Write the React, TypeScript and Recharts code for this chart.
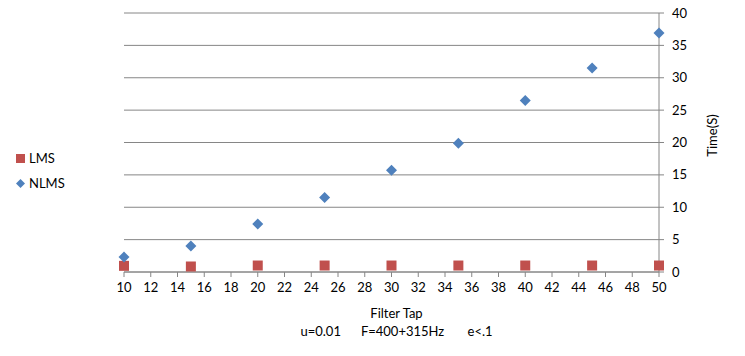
import React from 'react';
import { ScatterChart, Scatter, XAxis, YAxis, CartesianGrid } from 'recharts';

const taps = [10, 15, 20, 25, 30, 35, 40, 45, 50];
const lmsTime = [0.95, 0.85, 1.0, 1.0, 1.0, 1.0, 1.0, 1.0, 1.0];
const nlmsTime = [2.3, 4.0, 7.4, 11.5, 15.7, 19.9, 26.5, 31.5, 36.9];
const xTicks = [10, 12, 14, 16, 18, 20, 22, 24, 26, 28, 30, 32, 34, 36, 38, 40, 42, 44, 46, 48, 50];
const yTicks = [0, 5, 10, 15, 20, 25, 30, 35, 40];

const lmsData = taps.map((x, i) => ({ x, y: lmsTime[i] }));
const nlmsData = taps.map((x, i) => ({ x, y: nlmsTime[i] }));

const FONT = 'Lato, "Open Sans", sans-serif';
const RED = '#C0504D';
const BLUE = '#4F81BD';
const GRID = '#868686';

const Square = (props: any) => {
  const { cx, cy } = props;
  return <rect x={cx - 5} y={cy - 5} width={10} height={10} fill={RED} />;
};

const Diamond = (props: any) => {
  const { cx, cy } = props;
  return (
    <polygon
      points={`${cx},${cy - 5.5} ${cx + 5.5},${cy} ${cx},${cy + 5.5} ${cx - 5.5},${cy}`}
      fill={BLUE}
    />
  );
};

const XLabel = (props: any) => {
  const { viewBox } = props;
  const cx = viewBox.x + viewBox.width / 2 + 5;
  return (
    <g fontFamily={FONT} fontSize={13} fill="#000">
      <text x={cx} y={viewBox.y + 46} textAnchor="middle">Filter Tap</text>
      <text x={cx} y={viewBox.y + 64} textAnchor="middle" style={{ whiteSpace: 'pre' }}>
        {'u=0.01      F=400+315Hz       e<.1'}
      </text>
    </g>
  );
};

const YLabel = (props: any) => {
  const { viewBox } = props;
  const x = viewBox.x + 58;
  const y = viewBox.y + viewBox.height / 2 - 7;
  return (
    <text
      x={x}
      y={y}
      transform={`rotate(-90, ${x}, ${y})`}
      textAnchor="middle"
      fontFamily={FONT}
      fontSize={13}
      fill="#000"
    >
      Time(S)
    </text>
  );
};

export default function App() {
  return (
    <div style={{ position: 'absolute', left: 0, top: 0, width: 745, height: 356, background: '#fff' }}>
      <ScatterChart width={745} height={356} margin={{ top: 13, right: 26, bottom: 54, left: 124 }}>
        <CartesianGrid horizontal vertical={false} stroke={GRID} />
        <XAxis
          type="number"
          dataKey="x"
          domain={[10, 50]}
          ticks={xTicks}
          interval={0}
          height={30}
          stroke={GRID}
          tickSize={5}
          tickMargin={6}
          tick={{ fill: '#000', fontSize: 13, fontFamily: FONT }}
          label={<XLabel />}
        />
        <YAxis
          type="number"
          dataKey="y"
          orientation="right"
          domain={[0, 40]}
          ticks={yTicks}
          interval={0}
          width={60}
          stroke={GRID}
          tickSize={5}
          tickMargin={8}
          tick={{ fill: '#000', fontSize: 13, fontFamily: FONT }}
          label={<YLabel />}
        />
        <Scatter name="LMS" data={lmsData} shape={Square} isAnimationActive={false} />
        <Scatter name="NLMS" data={nlmsData} shape={Diamond} isAnimationActive={false} />
      </ScatterChart>
      <div style={{ position: 'absolute', left: 16, top: 150, fontFamily: FONT, fontSize: 13, color: '#000' }}>
        <div style={{ display: 'flex', alignItems: 'center', height: 16 }}>
          <span style={{ display: 'inline-block', width: 9, height: 9, background: RED, marginRight: 4 }} />
          LMS
        </div>
        <div style={{ display: 'flex', alignItems: 'center', height: 16, marginTop: 9 }}>
          <svg width={9} height={9} style={{ marginRight: 4 }}>
            <polygon points="4.5,0 9,4.5 4.5,9 0,4.5" fill={BLUE} />
          </svg>
          NLMS
        </div>
      </div>
    </div>
  );
}
